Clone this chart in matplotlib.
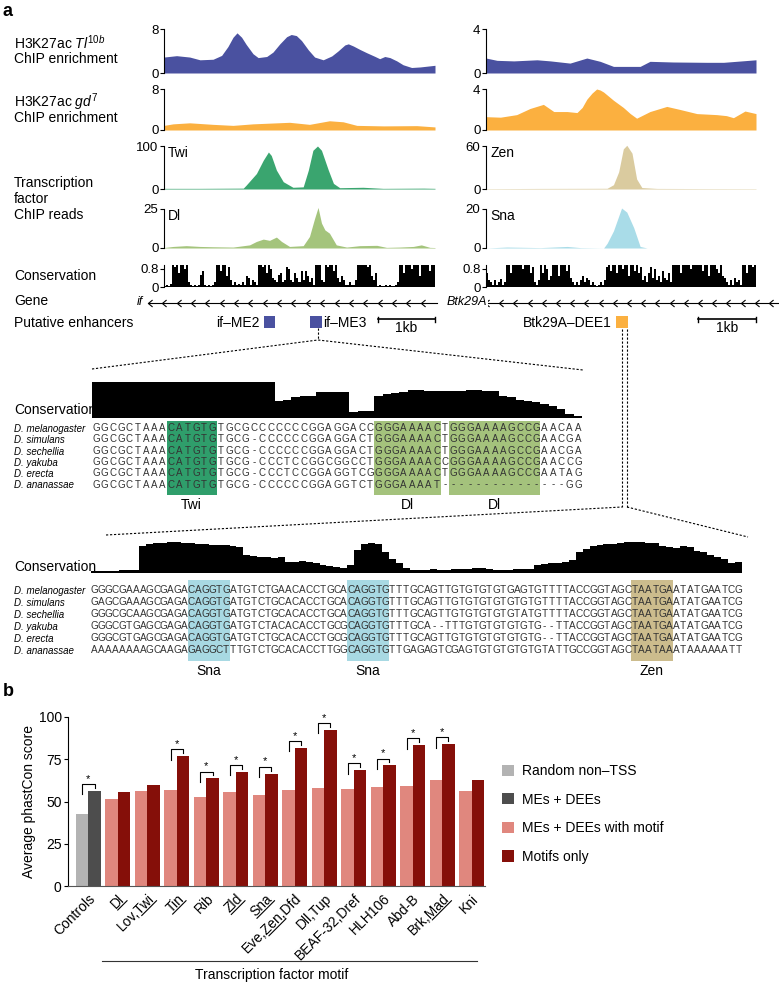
import numpy as np
import matplotlib
matplotlib.use('Agg')
import matplotlib.pyplot as plt
from matplotlib.patches import Rectangle
from matplotlib.path import Path
from matplotlib.lines import Line2D
from matplotlib.transforms import IdentityTransform

plt.rcParams['font.family'] = ['Liberation Sans', 'DejaVu Sans']
plt.rcParams['mathtext.fontset'] = 'custom'
plt.rcParams['mathtext.rm'] = 'Liberation Sans'
plt.rcParams['mathtext.it'] = 'Liberation Sans:italic'
plt.rcParams['mathtext.bf'] = 'Liberation Sans:bold'

NARROW = ['Liberation Sans Narrow', 'Liberation Sans', 'DejaVu Sans']

# ---------------- panel a : left locus (if), positions in kb ----------------
left_len = 4.75
tl_l_pos = [0, 0.22, 0.45, 0.63, 0.86, 1.01, 1.12, 1.21, 1.28, 1.36, 1.44, 1.56, 1.65, 1.80,
            1.91, 2.03, 2.15, 2.23, 2.32, 2.41, 2.53, 2.64, 2.79, 2.94, 3.05, 3.17, 3.23, 3.32,
            3.43, 3.55, 3.70, 3.78, 3.87, 3.96, 4.08, 4.19, 4.34, 4.49, 4.75]
tl_l_val = [2.9, 3.15, 2.9, 2.4, 2.5, 3.2, 4.8, 6.5, 7.3, 6.5, 5.2, 3.5, 2.8, 3.0,
            3.8, 5.3, 6.6, 7.0, 6.8, 5.9, 4.2, 2.9, 2.4, 3.1, 4.0, 5.1, 5.3, 4.9,
            4.3, 3.7, 3.0, 2.6, 3.0, 2.8, 2.2, 1.5, 1.0, 1.1, 1.4]
gd_l_pos = [0.0, 0.16, 0.45, 0.86, 1.21, 1.56, 2.20, 2.55, 2.90, 3.14, 3.38, 3.85, 4.43, 4.75]
gd_l_val = [0.9, 1.2, 1.4, 1.1, 0.9, 1.2, 1.5, 1.1, 1.8, 1.6, 0.9, 0.8, 0.85, 0.6]
twi_pos = [0, 0.63, 1.39, 1.44, 1.62, 1.74, 1.83, 1.88, 1.97, 2.09, 2.26, 2.44, 2.53, 2.61,
           2.69, 2.76, 2.88, 2.97, 3.08, 3.49, 3.84, 4.55, 4.75]
twi_val = [1.5, 1.5, 2, 9, 36, 67, 86, 78, 44, 17, 4, 5, 44, 90, 100, 90, 44, 13, 3, 4, 1.5, 2, 1.5]
dl_pos = [0, 0.16, 0.39, 0.63, 0.86, 1.21, 1.50, 1.62, 1.74, 1.85, 1.97, 2.06, 2.20, 2.44, 2.55,
          2.64, 2.70, 2.76, 2.82, 2.90, 3.02, 3.20, 3.43, 3.73, 3.90, 4.13, 4.37, 4.51, 4.66, 4.75]
dl_val = [0.3, 1.0, 1.5, 1.0, 0.8, 0.6, 2.0, 4.2, 5.7, 4.9, 7.0, 4.2, 1.0, 1.5, 7.4,
          19, 26, 16, 11.6, 9.5, 2.0, 0.6, 1.5, 1.7, 0.4, 0.6, 1.0, 2.0, 0.4, 0.3]
cons_left = [0.05, 0.1, 0.05, 0.15,
             0.95, 0.9, 0.95, 0.6, 0.95, 0.95, 0.8, 0.95,
             0.2, 0.1, 0.05, 0.1, 0.05, 0.1,
             0.55, 0.7,
             0.1, 0.05, 0.1, 0.05, 0.1, 0.2,
             0.95, 0.95, 0.7, 0.95, 0.95, 0.5, 0.9,
             0.3, 0.1, 0.2, 0.1, 0.15, 0.1, 0.2, 0.1,
             0.5, 0.4,
             0.1, 0.3, 0.2, 0.1,
             0.95, 0.95, 0.9, 0.95, 0.6, 0.95, 0.8, 0.4, 0.3,
             0.2, 0.55, 0.6, 0.2, 0.3,
             0.9, 0.8, 0.3,
             0.2, 0.6, 0.4, 0.2, 0.7, 0.3,
             0.7, 0.5,
             0.2, 0.4, 0.1,
             0.95, 0.95, 0.95, 0.3, 0.2, 0.95, 0.9, 0.95, 0.95, 0.7, 0.95, 0.4,
             0.2, 0.5, 0.3, 0.1, 0.1, 0.2, 0.1, 0.1, 0.3,
             0.95, 0.95, 0.95, 0.95, 0.95, 0.9, 0.95,
             0.5, 0.3, 0.6,
             0.05, 0.1, 0.05, 0.05, 0.1, 0.05, 0.1, 0.05, 0.05, 0.1, 0.2,
             0.95, 0.95, 0.6, 0.95, 0.95, 0.95, 0.8, 0.95, 0.95, 0.95, 0.5, 0.95, 0.95,
             0.95, 0.95, 0.7, 0.95, 0.95]
left_enh_names = ['if–ME2', 'if–ME3']
left_enh_start = [1.75, 2.56]
left_enh_end = [1.95, 2.77]

# ---------------- panel a : right locus (Btk29A) ----------------
right_len = 4.66
tl_r_pos = [0, 0.19, 0.48, 0.88, 1.11, 1.45, 1.74, 1.97, 2.20, 2.43, 2.66, 2.83, 3.23, 3.81, 4.10, 4.66]
tl_r_val = [1.36, 1.15, 1.1, 1.2, 1.1, 0.9, 1.36, 1.06, 0.6, 0.6, 0.6, 1.06, 1.0, 0.97, 0.97, 1.2]
gd_r_pos = [0, 0.25, 0.53, 0.76, 0.99, 1.17, 1.40, 1.57, 1.66, 1.74, 1.83, 1.91, 1.97, 2.03,
            2.20, 2.37, 2.49, 2.60, 2.83, 3.12, 3.35, 3.64, 3.98, 4.15, 4.27, 4.47, 4.66]
gd_r_val = [1.3, 1.25, 1.5, 2.1, 2.5, 1.8, 1.8, 1.7, 2.2, 3.0, 3.6, 4.0, 3.9, 3.7,
            2.9, 2.2, 1.6, 1.15, 1.8, 2.3, 2.0, 1.6, 1.5, 1.4, 1.2, 1.85, 1.6]
zen_pos = [0, 0.94, 2.09, 2.20, 2.29, 2.37, 2.43, 2.52, 2.60, 2.69, 2.95, 3.81, 4.66]
zen_val = [0.5, 0.8, 1, 6, 24, 56, 61, 50, 14, 2, 0.8, 0.6, 0.5]
sna_pos = [0, 0.36, 0.94, 1.40, 1.63, 2.03, 2.09, 2.20, 2.34, 2.43, 2.55, 2.66, 2.78, 4.66]
sna_val = [0, 0.5, 0.2, 0.8, 0.2, 0, 2.4, 8.8, 20.5, 18.4, 10.4, 0.8, 0, 0]
cons_right = [0.6, 0.3, 0.2, 0.1, 0.3, 0.1, 0.2, 0.35, 0.1, 0.2,
              0.95, 0.95, 0.6, 0.95, 0.95, 0.95, 0.95, 0.95, 0.8, 0.95, 0.95, 0.95, 0.6, 0.9,
              0.2, 0.1, 0.3,
              0.95, 0.6, 0.95, 0.8, 0.3, 0.5,
              0.95, 0.95, 0.95, 0.5, 0.95, 0.95, 0.95, 0.7, 0.95, 0.4, 0.2,
              0.1, 0.2, 0.1, 0.3, 0.5, 0.2, 0.4, 0.3, 0.1, 0.2, 0.1, 0.05, 0.1, 0.2, 0.1, 0.3,
              0.9, 0.95, 0.7, 0.95, 0.95, 0.6, 0.95, 0.95, 0.8, 0.95, 0.95, 0.5, 0.95, 0.95,
              0.7, 0.95, 0.6, 0.9,
              0.3, 0.5, 0.2, 0.6, 0.9, 0.4, 0.8, 0.3, 0.5, 0.2, 0.7, 0.4, 0.3, 0.6, 0.2,
              0.95, 0.95, 0.95, 0.95, 0.6, 0.95, 0.95, 0.95, 0.95, 0.8, 0.95, 0.95, 0.95, 0.95,
              0.95, 0.7, 0.95, 0.95, 0.5, 0.95, 0.95, 0.95, 0.8, 0.6, 0.95, 0.5, 0.4,
              0.2, 0.1, 0.3, 0.1, 0.4, 0.2, 0.3, 0.1,
              0.95, 0.95, 0.6, 0.95, 0.95, 0.9, 0.95]
right_enh_names = ['Btk29A–DEE1']
right_enh_start = [2.24]
right_enh_end = [2.45]

# ---------------- alignments ----------------
species = ['D. melanogaster', 'D. simulans', 'D. sechellia', 'D. yakuba', 'D. erecta', 'D. ananassae']
aln1 = ['GGCGCTAAACATGTGTGCGCCCCCCCGGAGGACCGGGAAAACTGGGAAAAGCCGAACAA',
        'GGCGCTAAACATGTGTGCG-CCCCCCGGAGGACTGGGAAAACTGGGAAAAGCCGAACGA',
        'GGCGCTAAACATGTGTGCG-CCCCCCGGAGGACTGGGAAAACTGGGAAAAGCCGAACGA',
        'GGCGCTAAACATGTGTGCG-CCCTCCGGCGGCCTGGGAAAACCGGGAAAAGCCGAACCG',
        'GGCGCTAAACATGTGTGCG-CCCTCCGGAGGTCGGGGAAAACTGGGAAAAGCCGAATAG',
        'GGCGCTAAACATGTGTGCG-CCCCCCGGAGGTCTGGGAAAAT---------------GG']
aln1_cons = [1.0] * 22 + [0.47, 0.5, 0.58, 0.6, 0.6, 0.72, 0.72, 0.71, 0.71, 0.17, 0.2, 0.2,
             0.6, 0.68, 0.7, 0.72, 0.78, 0.78, 0.76, 0.74, 0.75, 0.75, 0.76, 0.78, 0.78,
             0.76, 0.75, 0.62, 0.58, 0.5, 0.47, 0.44, 0.4, 0.32, 0.25, 0.1, 0.05]
aln1_motif_names = ['Twi', 'Dl', 'Dl']
aln1_motif_start = [9, 34, 43]
aln1_motif_len = [6, 8, 11]
aln1_motif_color = ['#2f9e6b', '#a4c27c', '#a4c27c']

aln2 = ['GGGCGAAAGCGAGACAGGTGATGTCTGAACACCTGCACAGGTGTTTGCAGTTGTGTGTGTGAGTGTTTTACCGGTAGCTAATGAATATGAATCG',
        'GAGCGAAAGCGAGACAGGTGATGTCTGCACACCTGCACAGGTGTTTGCAGTTGTGTGTGTGTGTGTTTTACCGGTAGCTAATGAATATGAATCG',
        'GGGCGCAAGCGAGACAGGTGATGTCTGCACACCTGCACAGGTGTTTGCAGTTGTGTGTGTGTATGTTTTACCGGTAGCTAATGAATATGAATCG',
        'GGGCGTGAGCGAGACAGGTGATGTCTACACACCTGCGCAGGTGTTTGCA--TTTGTGTGTGTGTG--TTACCGGTAGCTAATGAATATGAATCG',
        'GGGCGTGAGCGAGACAGGTGATGTCTGCACACCTGCGCAGGTGTTTGCAGTTGTGTGTGTGTGTG--TTACCGGTAGCTAATGAATATGAATCG',
        'AAAAAAAAGCAAGAGAGGCTTTGTCTGCACACCTTGGCAGGTGTTGAGAGTCGAGTGTGTGTGTGTATTGCCGGTAGCTAATAAATAAAAAATT']
aln2_cons = [0.05, 0.05, 0.05, 0.05, 0.08, 0.1, 0.1,
             0.85, 0.9, 0.93, 0.95, 0.97, 0.97, 0.95, 0.93, 0.92,
             0.9, 0.88, 0.87, 0.86, 0.84, 0.82, 0.55, 0.52, 0.5, 0.5, 0.48, 0.5,
             0.35, 0.35, 0.36, 0.33, 0.3, 0.25, 0.22, 0.2, 0.15, 0.25,
             0.72, 0.9, 0.95, 0.9, 0.65, 0.45, 0.3, 0.15, 0.1,
             0.1, 0.1, 0.12, 0.1, 0.1, 0.12, 0.12, 0.12, 0.15, 0.15, 0.13, 0.1, 0.1, 0.1,
             0.12, 0.12, 0.12,
             0.25, 0.28, 0.3, 0.32, 0.35, 0.4, 0.65, 0.75, 0.85, 0.88, 0.9, 0.92,
             0.95, 0.97, 0.98, 0.97, 0.95, 0.93, 0.85, 0.8, 0.78, 0.85, 0.82,
             0.7, 0.65, 0.55, 0.5, 0.45, 0.3, 0.35]
aln2_motif_names = ['Sna', 'Sna', 'Zen']
aln2_motif_start = [14, 37, 78]
aln2_motif_len = [6, 6, 6]
aln2_motif_color = ['#a8d9e3', '#a8d9e3', '#ccbc8d']

# ---------------- panel b ----------------
groups = ['Controls', 'Dl', 'Lov,Twi', 'Tin', 'Rib', 'Zld', 'Sna', 'Eve,Zen,Dfd', 'Dll,Tup',
          'BEAF-32,Dref', 'HLH106', 'Abd-B', 'Brk,Mad', 'Kni']
underlined = [None, 'Dl', 'Twi', 'Tin', None, 'Zld', 'Sna', 'Zen', None, None, None, None, 'Mad', None]
with_motif = [42.4, 51.3, 56.2, 56.8, 52.7, 55.5, 53.7, 57.0, 57.8, 57.4, 58.8, 59.4, 63.0, 56.2]
motif_only = [56.2, 55.5, 59.6, 76.8, 63.7, 67.5, 66.5, 81.7, 92.3, 68.5, 71.4, 83.3, 83.9, 62.6]
significant = [True, False, False, True, True, True, True, True, True, True, True, True, True, False]

# ---------------- figure ----------------
W, H = 779, 983
fig = plt.figure(figsize=(W / 100, H / 100), dpi=100)


def px_axes(x0, y0, x1, y1):
    ax = fig.add_axes([x0 / W, 1 - y1 / H, (x1 - x0) / W, (y1 - y0) / H])
    ax.patch.set_visible(False)
    return ax


def track(x0, x1, y0, y1, pos, val, ymax, xmax, color, name=None):
    ax = px_axes(x0, y0, x1, y1)
    ax.fill_between(pos, val, color=color, lw=0, clip_on=False)
    ax.set_xlim(0, xmax)
    ax.set_ylim(0, ymax)
    for s in ['top', 'right', 'bottom']:
        ax.spines[s].set_visible(False)
    ax.spines['left'].set_linewidth(0.8)
    ax.set_xticks([])
    ax.set_yticks([0, ymax])
    ax.set_yticklabels(['0', '{:g}'.format(ymax)])
    ax.tick_params(axis='y', length=3, width=0.8, labelsize=9.5, pad=1)
    if name:
        ax.text(0.015, 1.0, name, transform=ax.transAxes, va='top', ha='left', fontsize=10)
    return ax


def cons_track(x0, x1, vals):
    ax = px_axes(x0, 265, x1, 287)
    n = len(vals)
    ax.bar(np.arange(n) + 0.5, vals, width=1.0, color='black', lw=0)
    ax.set_xlim(0, n)
    ax.set_ylim(0, 0.97)
    for s in ['top', 'right', 'bottom']:
        ax.spines[s].set_visible(False)
    ax.spines['left'].set_linewidth(0.8)
    ax.set_xticks([])
    ax.set_yticks([0, 0.8])
    ax.set_yticklabels(['0', '0.8'])
    ax.tick_params(axis='y', length=3, width=0.8, labelsize=9.5, pad=1)


def enhancers(x0, x1, xmax, names, starts, ends, color, label_right):
    ax = px_axes(x0, 308, x1, 338)
    ax.set_xlim(0, xmax)
    ax.set_ylim(338, 308)
    ax.axis('off')
    for k, (nm, a, b) in enumerate(zip(names, starts, ends)):
        ax.add_patch(Rectangle((a, 316), b - a, 12, color=color, lw=0))
        if label_right[k]:
            ax.text(b + 0.02, 322.5, nm, ha='left', va='center', fontsize=10, clip_on=False)
        else:
            ax.text(a - 0.07, 322.5, nm, ha='right', va='center', fontsize=10, clip_on=False)
    # 1 kb scale bar
    ax.plot([xmax - 1, xmax], [319, 319], color='black', lw=1.2, clip_on=False)
    for xe in (xmax - 1, xmax):
        ax.plot([xe, xe], [316.5, 321.5], color='black', lw=1.0, clip_on=False)
    ax.text(xmax - 0.5, 321, '1kb', ha='center', va='top', fontsize=10)


BLUE, ORANGE = '#4a51a0', '#fbb040'
LX0, LX1, RX0, RX1 = 164, 435, 486, 756
track(LX0, LX1, 29, 73, tl_l_pos, tl_l_val, 8, left_len, BLUE)
track(LX0, LX1, 89, 130, gd_l_pos, gd_l_val, 8, left_len, ORANGE)
track(LX0, LX1, 146, 189, twi_pos, twi_val, 100, left_len, '#3aa56f', 'Twi')
track(LX0, LX1, 209, 248, dl_pos, dl_val, 25, left_len, '#a4c47c', 'Dl')
cons_track(LX0, LX1, cons_left)
track(RX0, RX1, 29, 73, tl_r_pos, tl_r_val, 4, right_len, BLUE)
track(RX0, RX1, 89, 130, gd_r_pos, gd_r_val, 4, right_len, ORANGE)
track(RX0, RX1, 146, 189, zen_pos, zen_val, 60, right_len, '#dacb9f', 'Zen')
track(RX0, RX1, 209, 248, sna_pos, sna_val, 20, right_len, '#a9dce8', 'Sna')
cons_track(RX0, RX1, cons_right)
enhancers(LX0, LX1, left_len, left_enh_names, left_enh_start, left_enh_end, BLUE, [False, True])
enhancers(RX0, RX1, right_len, right_enh_names, right_enh_start, right_enh_end, ORANGE, [False])


def alignment(x0, x1, y0, y1, row0, step, rows, cons, cons_y, names, starts, lens, colors, fs):
    n = len(rows[0])
    ax = px_axes(x0, y0, x1, y1)
    ax.set_xlim(0, n)
    top = -(row0 - y0) / step
    bot = (y1 - row0) / step
    ax.set_ylim(bot, top)
    for a, l, c in zip(starts, lens, colors):
        ax.add_patch(Rectangle((a, bot), l, top - bot, color=c, lw=0))
    for r, s in enumerate(rows):
        for i, ch in enumerate(s):
            ax.text(i + 0.5, r, ch, ha='center', va='center', fontsize=fs,
                    family=NARROW, color='#333333')
    for s in ax.spines.values():
        s.set_visible(False)
    ax.set_yticks(range(len(rows)))
    ax.set_yticklabels(species, fontsize=7, style='italic', ha='left', family=NARROW)
    ax.tick_params(axis='y', length=0, pad=(x0 - 14) * 0.72)
    ax.set_xticks([a + l / 2 for a, l in zip(starts, lens)])
    ax.set_xticklabels(names, fontsize=10)
    ax.tick_params(axis='x', length=0, pad=2.5)
    # conservation profile above the alignment
    cx = px_axes(x0, cons_y[0], x1, cons_y[1])
    cx.stairs(cons, np.arange(n + 1), fill=True, color='black', lw=0)
    cx.set_xlim(0, n)
    cx.set_ylim(0, 1)
    cx.axis('off')


alignment(92, 582, 421, 495, 428, 11.3, aln1, aln1_cons, (382, 418),
          aln1_motif_names, aln1_motif_start, aln1_motif_len, aln1_motif_color, 7)
alignment(91, 742, 580, 661, 590, 12, aln2, aln2_cons, (541, 573),
          aln2_motif_names, aln2_motif_start, aln2_motif_len, aln2_motif_color, 7.2)

# overlay in pixel coordinates for labels, gene line and zoom lines
ov = fig.add_axes([0, 0, 1, 1])
ov.set_xlim(0, W)
ov.set_ylim(H, 0)
ov.axis('off')
ov.set_zorder(5)
ov.text(3, 12, 'a', fontsize=13, fontweight='bold', va='center')
ov.text(3, 692, 'b', fontsize=13, fontweight='bold', va='center')
ov.text(14, 43, r'H3K27ac $\mathit{Tl}^{\mathit{10b}}$', fontsize=10, va='center')
ov.text(14, 59, 'ChIP enrichment', fontsize=10, va='center')
ov.text(14, 102, r'H3K27ac $\mathit{gd}^{\mathit{7}}$', fontsize=10, va='center')
ov.text(14, 118, 'ChIP enrichment', fontsize=10, va='center')
ov.text(14, 199, 'Transcription\nfactor\nChIP reads', fontsize=10, va='center', linespacing=1.2)
ov.text(14, 276, 'Conservation', fontsize=10, va='center')
ov.text(14, 301, 'Gene', fontsize=10, va='center')
ov.text(14, 323, 'Putative enhancers', fontsize=10, va='center')
ov.text(14, 410, 'Conservation', fontsize=10, va='center')
ov.text(14, 567, 'Conservation', fontsize=10, va='center')

chev = Path([(0.6, 1.0), (-0.6, 0.0), (0.6, -1.0)], [Path.MOVETO, Path.LINETO, Path.LINETO])
lchev = np.arange(150, 437, 14.35)
rchev = np.arange(487, 779, 14.2)
ov.plot([148, 437], [303, 303], color='black', lw=0.8)
ov.plot(lchev, np.full(len(lchev), 303), ls='none',
        marker=chev, ms=5, mfc='none', mec='black', mew=0.8)
ov.plot([487, 779], [303, 303], color='black', lw=0.8)
ov.plot(rchev, np.full(len(rchev), 303), ls='none',
        marker=chev, ms=5, mfc='none', mec='black', mew=0.8)
ov.text(143, 302, 'if', style='italic', ha='right', va='center', fontsize=9)
ov.text(447, 302, 'Btk29A', style='italic', ha='left', va='center', fontsize=9,
        bbox=dict(facecolor='white', edgecolor='none', pad=0.3))

dot = dict(color='black', lw=0.8, ls=(0, (2, 1.6)))
ov.plot([318, 318], [328, 340], **dot)
ov.plot([92, 318, 583], [369, 340, 370], **dot)
ov.plot([622, 622], [329, 507], **dot)
ov.plot([627, 627], [329, 507], **dot)
ov.plot([106, 622], [535, 507], **dot)
ov.plot([627, 748], [507, 537], **dot)

# ---------------- panel b chart ----------------
w = 0.42
x = np.arange(len(groups))
bax = px_axes(68, 717, 485, 886)
bax.bar(x[0] - w / 2, with_motif[0], w, color='#b3b3b3', label='Random non–TSS')
bax.bar(x[0] + w / 2, motif_only[0], w, color='#4d4d4d', label='MEs + DEEs')
bax.bar(x[1:] - w / 2, with_motif[1:], w, color='#e0877e', label='MEs + DEEs with motif')
bax.bar(x[1:] + w / 2, motif_only[1:], w, color='#850f09', label='Motifs only')
for i in x:
    if significant[i]:
        top = motif_only[i] + 4
        bax.plot([i - w / 2, i - w / 2, i + w / 2, i + w / 2], [top - 6, top, top, top - 2.2],
                 color='black', lw=0.8, clip_on=False)
        bax.text(i, top + 0.3, '*', ha='center', va='bottom', fontsize=8)
bax.set_xlim(-0.69, 13.45)
bax.set_ylim(0, 100)
bax.set_yticks([0, 25, 50, 75, 100])
bax.tick_params(axis='y', length=3, width=0.8, labelsize=10, pad=1.5)
bax.set_xticks(x)
bax.set_xticklabels(groups, rotation=45, ha='right', rotation_mode='anchor', fontsize=10)
bax.tick_params(axis='x', length=0, pad=4)
for s in ['top', 'right']:
    bax.spines[s].set_visible(False)
bax.spines['left'].set_linewidth(0.8)
bax.spines['bottom'].set_color('#555555')
bax.set_ylabel('Average phastCon score', fontsize=10)
bax.yaxis.set_label_coords(-0.077, 0.5)
bax.legend(loc='upper left', bbox_to_anchor=(502 / W, 1 - 764 / H), bbox_transform=fig.transFigure,
           frameon=False, fontsize=10, handlelength=0.87, handleheight=0.87, handletextpad=0.6,
           labelspacing=1.05, borderpad=0, borderaxespad=0)

ov.plot([102, 477], [961, 961], color='#333333', lw=0.8)
ov.text(272, 975, 'Transcription factor motif', ha='center', va='center', fontsize=10)

# underline the factor names whose motif is enriched
fig.canvas.draw()
rend = fig.canvas.get_renderer()
ang = np.deg2rad(45)
for lab, word in zip(bax.get_xticklabels(), underlined):
    if not word:
        continue
    s = lab.get_text()
    k = s.index(word)
    prop = lab.get_fontproperties()
    wt, ht, dt = rend.get_text_width_height_descent(s, prop, ismath=False)
    wp = rend.get_text_width_height_descent(s[:k], prop, ismath=False)[0] if k else 0
    ww = rend.get_text_width_height_descent(word, prop, ismath=False)[0]
    _, hl, dl = rend.get_text_width_height_descent('lp', prop, ismath=False)
    hh, dd = max(ht, hl), max(dt, dl)
    axp, ayp = lab.get_transform().transform(lab.get_position())
    v = -(hh - dd) - 2.0
    xs, ys = [], []
    for u in (-wt + wp, -wt + wp + ww):
        xs.append(axp + u * np.cos(ang) - v * np.sin(ang))
        ys.append(ayp + u * np.sin(ang) + v * np.cos(ang))
    fig.add_artist(Line2D(xs, ys, color='black', lw=0.8, transform=IdentityTransform()))

fig.savefig('out.png', dpi=100)
